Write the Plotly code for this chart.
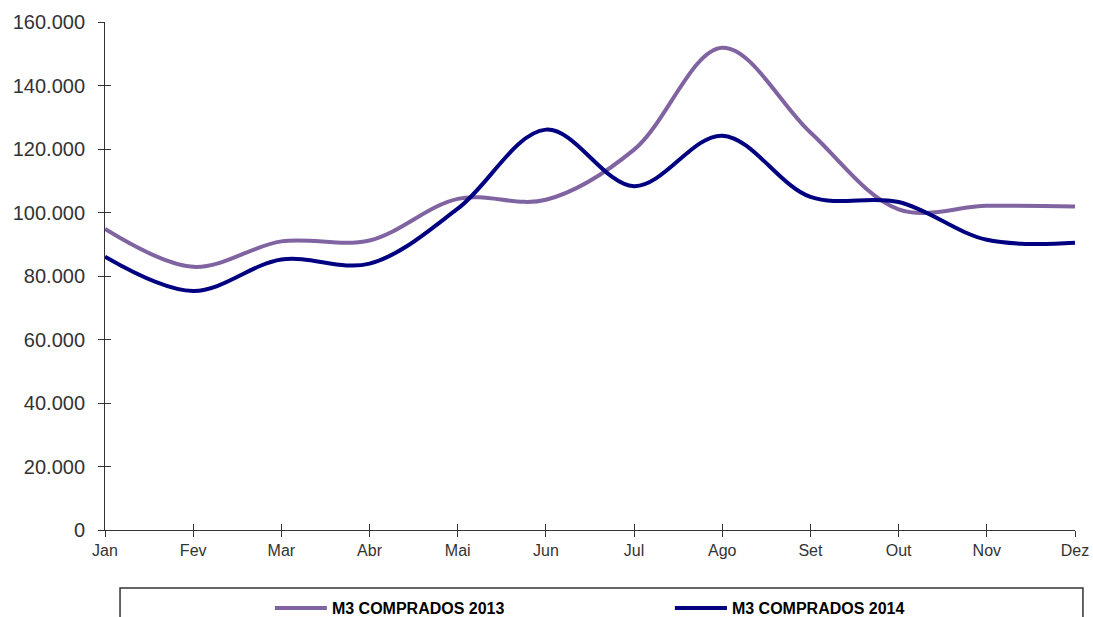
import plotly.graph_objects as go

months = ["Jan", "Fev", "Mar", "Abr", "Mai", "Jun", "Jul", "Ago", "Set", "Out", "Nov", "Dez"]
m3_2013 = [94800, 82900, 90900, 91200, 104300, 104000, 119800, 151900, 125200, 101000, 102100, 101900]
m3_2014 = [86100, 75300, 85200, 83900, 101200, 126100, 108300, 124200, 104900, 103300, 91400, 90500]
y_ticks = [0, 20000, 40000, 60000, 80000, 100000, 120000, 140000, 160000]
y_labels = ["0", "20.000", "40.000", "60.000", "80.000", "100.000", "120.000", "140.000", "160.000"]

FONT = "Liberation Sans, Arial, sans-serif"

fig = go.Figure()
fig.add_trace(go.Scatter(x=months, y=m3_2013, mode="lines", name="M3 COMPRADOS 2013",
                         line=dict(color="#8064A2", width=4, shape="spline", smoothing=1.0)))
fig.add_trace(go.Scatter(x=months, y=m3_2014, mode="lines", name="M3 COMPRADOS 2014",
                         line=dict(color="#000080", width=4, shape="spline", smoothing=1.0)))

axis_common = dict(showgrid=False, zeroline=False, linecolor="#333333", linewidth=1,
                   tickwidth=1, tickcolor="#333333", ticklen=6)

fig.update_layout(
    width=1093, height=617,
    margin=dict(l=105, r=18, t=22, b=87, autoexpand=False),
    paper_bgcolor="white", plot_bgcolor="white",
    font=dict(family=FONT, color="#333333"),
    xaxis=dict(type="category", categoryorder="array", categoryarray=months,
               range=[0, 11], showline=True, ticks="outside",
               tickfont=dict(size=16, color="#333333"), **axis_common),
    yaxis=dict(range=[0, 160000], tickvals=y_ticks, ticktext=y_labels, showline=True,
               ticks="outside", ticklabelstandoff=9,
               tickfont=dict(size=20, color="#333333"), **axis_common),
    xaxis2=dict(type="category", categoryorder="array", categoryarray=months,
                range=[0, 11], overlaying="x", showline=False, ticks="inside",
                showticklabels=False, anchor="y2", side="bottom", **axis_common),
    yaxis2=dict(range=[0, 160000], tickvals=y_ticks, overlaying="y",
                showline=False, ticks="inside", showticklabels=False, anchor="x2", side="left",
                **axis_common),
    showlegend=True,
    legend=dict(orientation="h", x=0.170, xanchor="left", y=-0.1535, yanchor="middle",
                font=dict(family=FONT, size=16, color="#000000", weight="bold"),
                entrywidth=333, entrywidthmode="pixels", bgcolor="rgba(0,0,0,0)",
                itemwidth=52),
    shapes=[dict(type="rect", xref="paper", yref="paper", x0=0.0155, x1=1.0082,
                 y0=-0.1142, y1=-0.25, line=dict(color="#333333", width=1.5),
                 fillcolor="rgba(0,0,0,0)", layer="below")],
)

# invisible trace on the overlay axes so their inside ticks are drawn (crossing tick marks)
fig.add_trace(go.Scatter(x=months, y=m3_2013, xaxis="x2", yaxis="y2", mode="lines",
                         line=dict(width=0), opacity=0, showlegend=False, hoverinfo="skip"))

fig.write_html("out.html")
